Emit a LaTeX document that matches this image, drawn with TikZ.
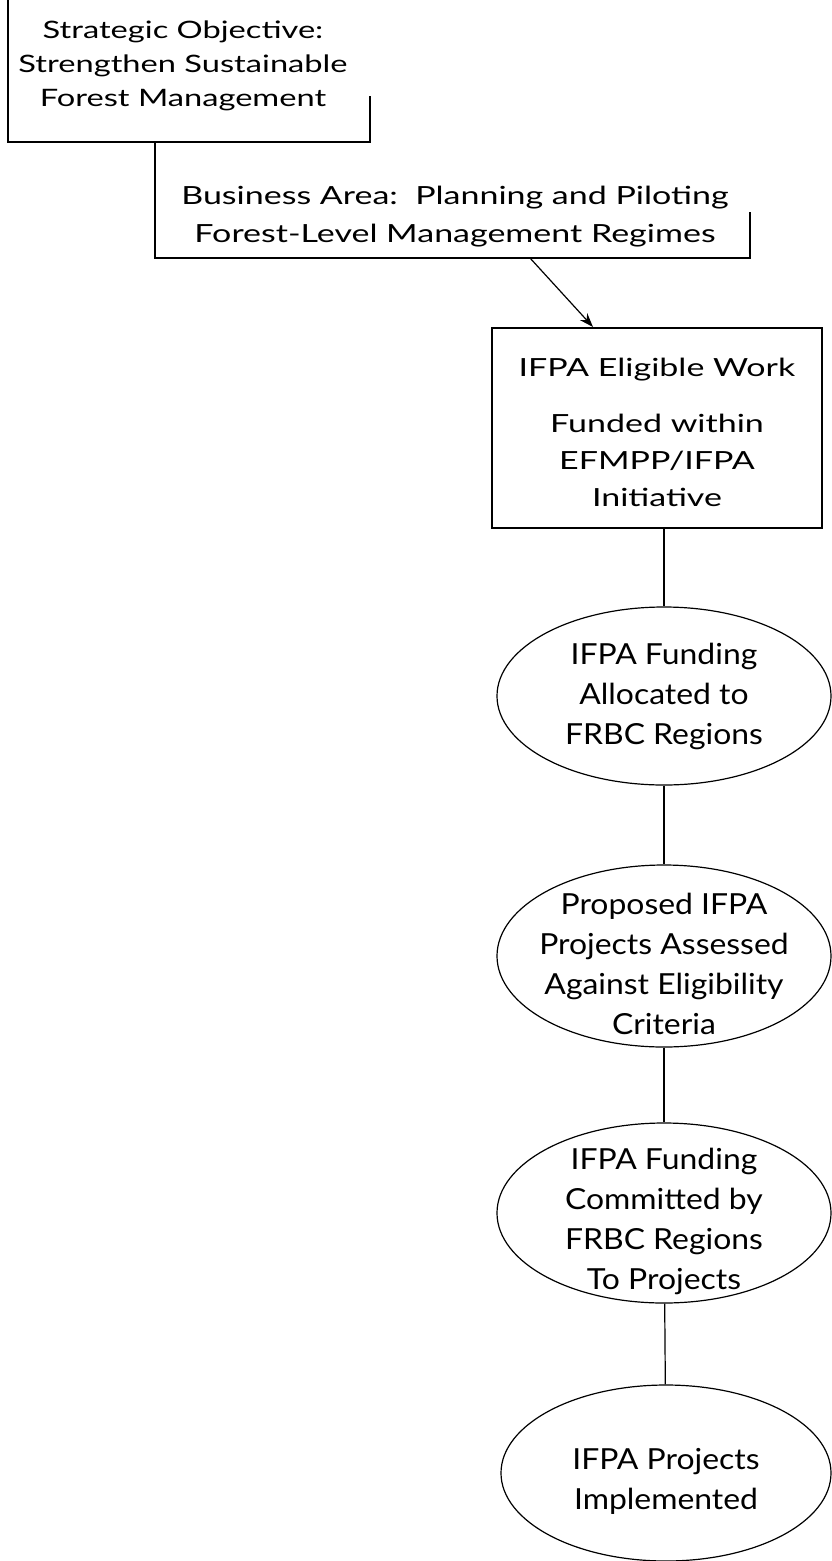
\documentclass[tikz,border=0pt]{standalone}
\usepackage{fontspec}
\setmainfont{Lato}
\newfontfamily\wideface{Lato}[FakeStretch=1.36]
\newfontfamily\stageface{Lato}[FakeStretch=1.1]
\usetikzlibrary{shapes.geometric,arrows.meta}

\begin{document}
\begin{tikzpicture}[x=1pt, y=-1pt,
    heading/.style={align=center, inner sep=0pt, font=\wideface\fontsize{24}{34}\selectfont},
    workbox/.style={rectangle, draw, line width=2.2pt, minimum width=330pt, minimum height=200pt, align=center, font=\wideface\fontsize{25}{37}\selectfont},
    stage/.style={ellipse, draw, line width=1.2pt, minimum width=334pt, inner xsep=-45pt, inner ysep=-30pt, align=center, font=\stageface\fontsize{29}{40}\selectfont},
    bracket/.style={line width=1.8pt},
    link/.style={line width=1.2pt},
    arrow/.style={-{Stealth[length=14pt, width=10pt]}, line width=1.2pt}
]
    \useasboundingbox (0,0) rectangle (831,1561);

    % Top: objective and business area
    \node[heading] (obj) at (183, 66) {Strategic Objective:\\Strengthen Sustainable\\Forest Management};
    \draw[bracket] (8,0) |- (370,142) -- (370,96);

    \node[heading, font=\wideface\fontsize{25}{38}\selectfont] (area) at (455, 217) {Business Area:\ \ Planning and Piloting\\Forest-Level Management Regimes};
    \draw[bracket] (155,142) |- (750,258) -- (750,212);
    \coordinate (areaend) at (530,258);

    % Work box
    \node[workbox] (work) at (657, 428) {\rule{0pt}{28pt}IFPA Eligible Work\\[19pt]Funded within\\EFMPP/IFPA\\Initiative};
    \coordinate (worktop) at (593,327);
    \draw[arrow] (areaend) -- (worktop);

    % Process chain
    \node[stage, minimum height=178pt] (alloc) at (664, 696) {IFPA Funding\\Allocated to\\FRBC Regions};
    \node[stage, minimum height=182pt] (assess) at (664, 956) {\rule{0pt}{38pt}Proposed IFPA\\Projects Assessed\\Against Eligibility\\Criteria};
    \node[stage, minimum height=180pt] (commit) at (664, 1213) {\rule{0pt}{38pt}IFPA Funding\\Committed by\\FRBC Regions\\To Projects};
    \node[stage, minimum height=176pt, minimum width=330pt] (impl) at (666, 1473) {\rule{0pt}{38pt}IFPA Projects\\Implemented};

    \draw[link] (alloc.north |- work.south) -- (alloc.north);
    \draw[link] (alloc) -- (assess);
    \draw[link] (assess) -- (commit);
    \draw[link] (commit) -- (impl);
\end{tikzpicture}
\end{document}
